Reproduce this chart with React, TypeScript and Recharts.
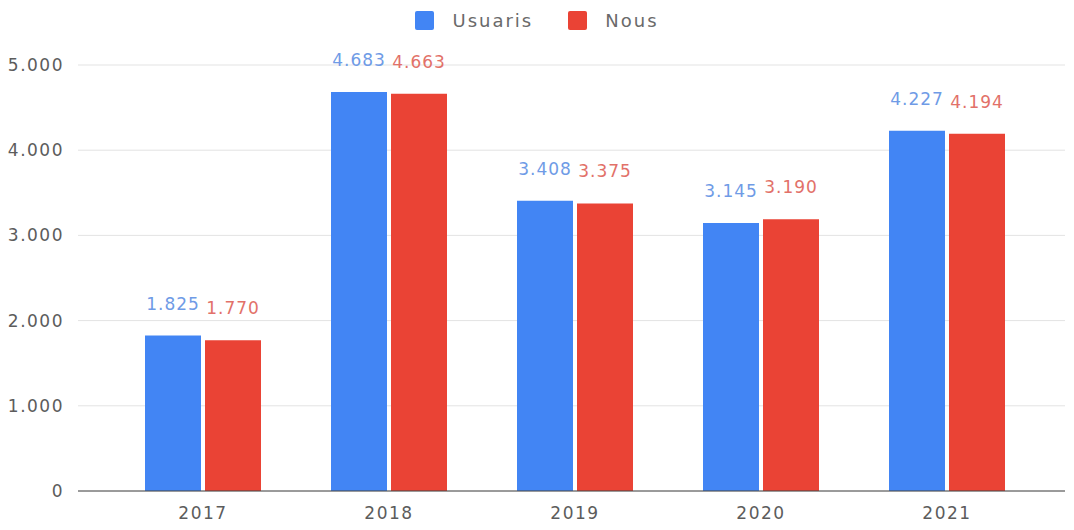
import { BarChart, Bar, XAxis, YAxis, CartesianGrid, Legend, LabelList } from 'recharts'

const years = ['2017', '2018', '2019', '2020', '2021']
const usuaris = [1825, 4683, 3408, 3145, 4227]
const nous = [1770, 4663, 3375, 3190, 4194]
const yTicks = [0, 1000, 2000, 3000, 4000, 5000]

const BLUE = '#4285f4'
const RED = '#ea4335'
const FONT = '"DejaVu Sans", sans-serif'

// thousands with a dot, as in the Catalan source
const fmt = (v: number) => String(v).replace(/\B(?=(\d{3})+(?!\d))/g, '.')

const data = years.map((year, i) => ({ year, usuaris: usuaris[i], nous: nous[i] }))

function LegendBox() {
    const items = [
        { name: 'Usuaris', color: BLUE },
        { name: 'Nous', color: RED },
    ]
    return (
        <div
            style={{
                display: 'flex',
                justifyContent: 'center',
                gap: 35,
                height: 20,
                fontFamily: FONT,
                fontSize: 18,
                letterSpacing: 2,
                color: '#6a6a6a',
            }}
        >
            {items.map((it) => (
                <div key={it.name} style={{ display: 'flex', alignItems: 'center', gap: 18 }}>
                    <span style={{ width: 19, height: 19, background: it.color, display: 'inline-block', borderRadius: 2 }} />
                    <span>{it.name}</span>
                </div>
            ))}
        </div>
    )
}

const tickStyle = { fill: '#5c5c5c', fontSize: 17, fontFamily: FONT, letterSpacing: 1.5 }

export default function App() {
    return (
        <div style={{ position: 'absolute', left: 0, top: 0, width: 1074, height: 530, background: '#fff' }}>
            <BarChart
                width={1074}
                height={530}
                data={data}
                margin={{ top: 45, right: 9, bottom: 9, left: 0 }}
                barCategoryGap={35}
                barGap={4}
            >
                <CartesianGrid vertical={false} stroke="#e3e3e3" />
                <Legend
                    verticalAlign="top"
                    content={() => <LegendBox />}
                    wrapperStyle={{ top: 10, left: 0, width: 1074, height: 20 }}
                />
                <XAxis
                    dataKey="year"
                    padding={{ left: 32, right: 25 }}
                    tickLine={false}
                    axisLine={{ stroke: '#444' }}
                    tickMargin={10}
                    height={30}
                    tick={tickStyle}
                />
                <YAxis
                    width={78}
                    domain={[0, 5000]}
                    ticks={yTicks}
                    tickFormatter={fmt}
                    tickLine={false}
                    axisLine={false}
                    tickSize={0}
                    tickMargin={14}
                    tick={tickStyle}
                />
                <Bar dataKey="usuaris" name="Usuaris" fill={BLUE} isAnimationActive={false}>
                    <LabelList
                        dataKey="usuaris"
                        position="top"
                        offset={26}
                        formatter={(v: any) => fmt(v)}
                        fill="#6f9be6"
                        fontSize={17}
                        fontFamily={FONT}
                        letterSpacing={1}
                    />
                </Bar>
                <Bar dataKey="nous" name="Nous" fill={RED} isAnimationActive={false}>
                    <LabelList
                        dataKey="nous"
                        position="top"
                        offset={26}
                        formatter={(v: any) => fmt(v)}
                        fill="#e27169"
                        fontSize={17}
                        fontFamily={FONT}
                        letterSpacing={1}
                    />
                </Bar>
            </BarChart>
        </div>
    )
}
